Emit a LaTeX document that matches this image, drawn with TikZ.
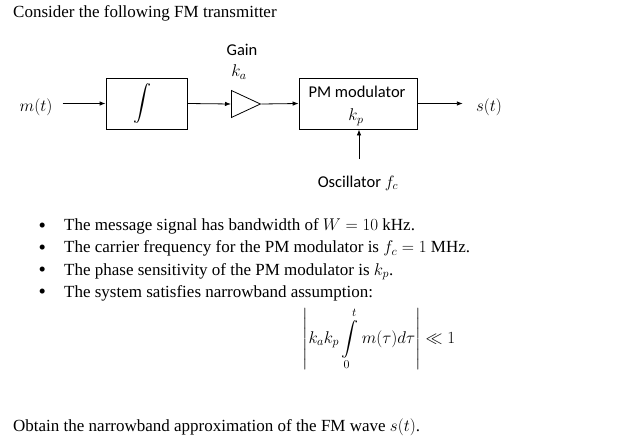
\RequirePackage{fix-cm}
\documentclass[tikz,border=0pt]{standalone}
\usepackage{amsmath}
\usepackage{amssymb}
\usepackage{fontspec}
\setmainfont{Liberation Serif}
\newfontfamily\labelfont{Carlito}
\usetikzlibrary{arrows.meta,shapes.geometric}

\begin{document}
\begin{tikzpicture}[x=1pt,y=-1pt,
	blockbox/.style={draw, line width=0.8pt, minimum height=51pt, inner sep=0pt},
	ampbox/.style={draw, line width=0.8pt, isosceles triangle, isosceles triangle stretches, minimum width=27pt, minimum height=29pt, inner sep=0pt},
	diaglabel/.style={font=\labelfont\fontsize{16.5}{19}\selectfont, inner sep=0pt},
	mathlabel/.style={font=\fontsize{17}{20}\selectfont, inner sep=0pt},
	textline/.style={font=\fontsize{17}{20}\selectfont, anchor=base west, inner sep=0pt},
	dotline/.style={font=\fontsize{21}{24}\selectfont, anchor=base west, inner sep=0pt},
	sig/.style={-{Latex[length=6pt,width=4.5pt]}, line width=0.8pt}]
	\useasboundingbox (0,0) rectangle (635,444);
	\node[textline] (title) at (13,17.3) {Consider the following FM transmitter};
	%\draw[help lines] (0,0) grid (635,444);
	% block diagram
	\node[mathlabel] (input) at (36,107) {$m(t)$};
	\node[blockbox, minimum width=81pt] (integ) at (146.5,103.5) {};
	\node[mathlabel] (intsign) at (142,104) {\fontsize{18}{20}\selectfont$\displaystyle\int$};
	\node[ampbox, anchor=west] (gain) at (231,104) {};
	\node[diaglabel] (gaintext) at (242,50) {Gain};
	\node[mathlabel] (ka) at (239,72) {$k_a$};
	\node[blockbox, minimum width=118pt] (pm) at (358,103.5) {};
	\node[diaglabel] (pmtext) at (357,92) {PM modulator};
	\node[mathlabel] (kp) at (356,117) {$k_p$};
	\node[mathlabel] (output) at (489,107) {$s(t)$};
	\node[diaglabel] (osc) at (358,183) {Oscillator $f_c$};
	\coordinate (oscout) at (359,159);
	\draw[sig, shorten <=10pt] (integ.west -| input.east) -- (integ.west);
	\draw[sig] (integ.east) -- (gain.west);
	\draw[sig] (gain.apex) -- (pm.west);
	\draw[sig, shorten >=13pt] (pm.east) -- (pm.east -| output.west);
	\draw[sig] (oscout) -- (pm.south -| oscout);
	% bullet list
	\node[dotline] (dot1) at (38.5,232) {\textbullet};
	\node[textline] (line1) at (64,230.7) {The message signal has bandwidth of $W = 10$ kHz.};
	\node[dotline] (dot2) at (38.5,254) {\textbullet};
	\node[textline] (line2) at (64,252.7) {The carrier frequency for the PM modulator is $f_c = 1$ MHz.};
	\node[dotline] (dot3) at (38.5,276.3) {\textbullet};
	\node[textline] (line3) at (64,275) {The phase sensitivity of the PM modulator is $k_p$.};
	\node[dotline] (dot4) at (38.5,298.8) {\textbullet};
	\node[textline] (line4) at (64,297.5) {The system satisfies narrowband assumption:};
	\node[mathlabel] (cond) at (379,339) {$\displaystyle \left|k_a k_p \int\limits_0^t m(\tau)d\tau\right| \ll 1$};
	\node[textline] (task) at (13,431.7) {Obtain the narrowband approximation of the FM wave $s(t)$.};
\end{tikzpicture}
\end{document}
